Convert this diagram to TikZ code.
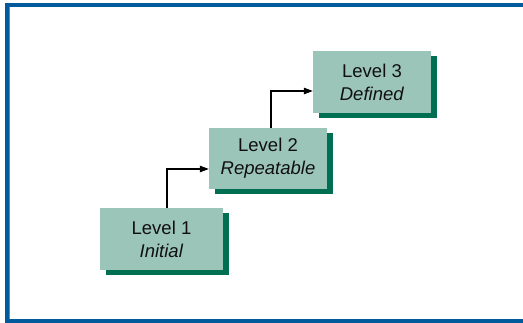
\documentclass[tikz,border=0pt]{standalone}
\usepackage{fontspec}
\setmainfont{Liberation Sans}
\usetikzlibrary{arrows.meta,shadows,calc}
\definecolor{framebl}{HTML}{005A9C}
\definecolor{framelt}{HTML}{4F8FC8}
\definecolor{boxfill}{HTML}{9CC5BA}
\definecolor{boxshade}{HTML}{006E50}
\definecolor{ink}{HTML}{101010}
\tikzset{
  levelbox/.style={rectangle, fill=boxfill, inner sep=0pt, align=center,
    text=ink, font=\fontsize{18.5}{23}\selectfont,
    drop shadow={shadow xshift=6pt, shadow yshift=-5pt, fill=boxshade, opacity=1}},
  stepline/.style={draw=black, line width=1.1pt, -{Triangle[length=9pt,width=6.5pt]}},
  frameband/.style={draw=framebl, line width=4pt}
}
\begin{document}
\begin{tikzpicture}[x=1pt,y=-1pt]
  \useasboundingbox (0,0) rectangle (523,323);
  % outer frame, open on the right
  \draw[frameband] (523,5) -- (7,5) -- (7,321) -- (523,321);
  \draw[framelt, line width=1pt] (9.5,7) -- (9.5,319);
  % maturity levels
  \node[levelbox, minimum width=123pt, minimum height=62pt] (b1) at (161.5,239)
    {Level 1\\\textit{Initial}};
  \node[levelbox, minimum width=118pt, minimum height=61pt] (b2) at (268,158.5)
    {Level 2\\\textit{Repeatable}};
  \node[levelbox, minimum width=118pt, minimum height=62pt] (b3) at (372,82)
    {Level 3\\\textit{Defined}};
  % step connectors
  \draw[stepline] ($(b1.north)+(5.5,0)$) |- ($(b2.west)+(0,10.5)$);
  \draw[stepline] ($(b2.north)+(3,0)$) |- ($(b3.west)+(0,9)$);
\end{tikzpicture}
\end{document}
